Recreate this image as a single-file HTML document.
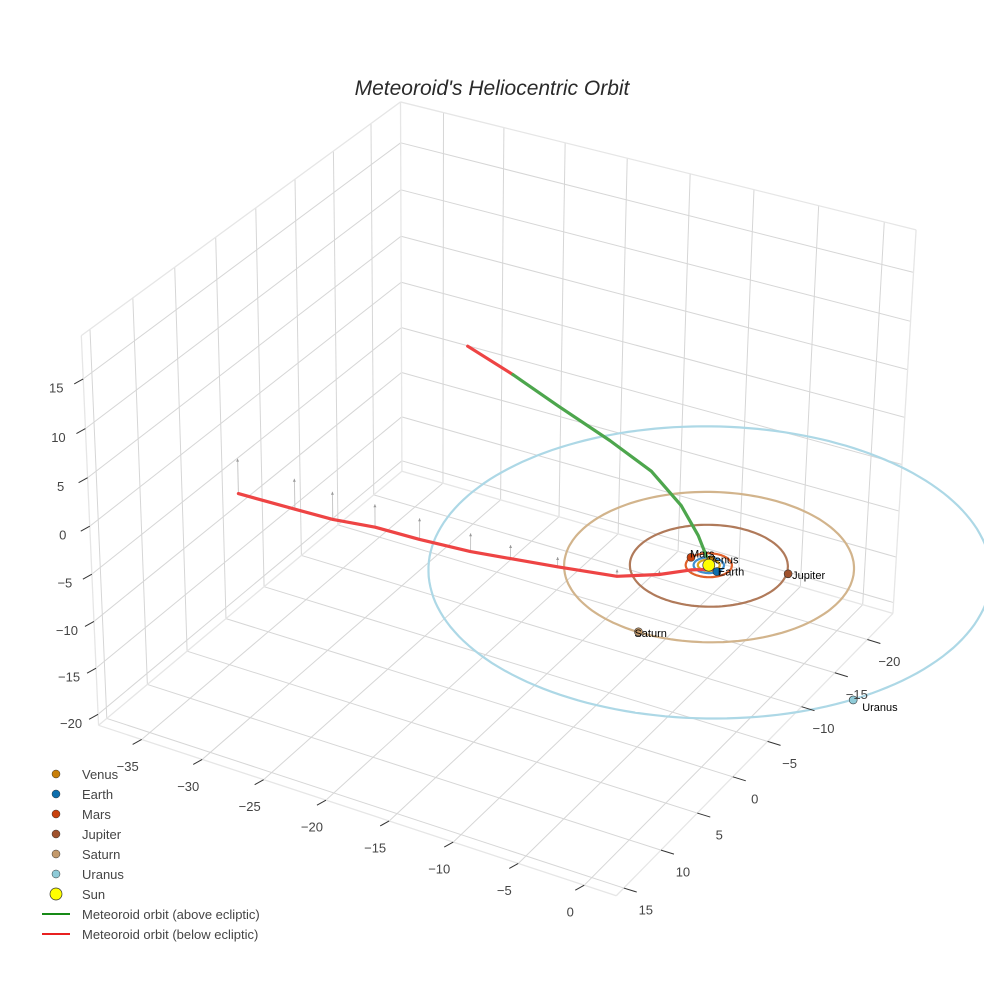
<!DOCTYPE html>
<html><head><meta charset="utf-8"><style>
body{margin:0;background:#fff}
svg{display:block;font-family:"Liberation Sans",sans-serif}
</style></head><body>
<svg id="chart" width="984" height="984" viewBox="0 0 984 984">
<rect width="984" height="984" fill="#fff"/>
<g id="grid"></g>
<g id="marks"></g>
<g id="axes"></g>
<text x="492" y="95" text-anchor="middle" font-size="21" font-style="italic" fill="#2a2a2a">Meteoroid's Heliocentric Orbit</text>
<g font-size="13" fill="#444">
 <g><circle cx="56" cy="774" r="4" fill="#c87f0a" stroke="#333" stroke-width="0.5"/><text x="82" y="779">Venus</text></g>
 <g><circle cx="56" cy="794" r="4" fill="#0d6ead" stroke="#333" stroke-width="0.5"/><text x="82" y="799">Earth</text></g>
 <g><circle cx="56" cy="814" r="4" fill="#c8410d" stroke="#333" stroke-width="0.5"/><text x="82" y="819">Mars</text></g>
 <g><circle cx="56" cy="834" r="4" fill="#a0522d" stroke="#333" stroke-width="0.5"/><text x="82" y="839">Jupiter</text></g>
 <g><circle cx="56" cy="854" r="4" fill="#c49a6c" stroke="#333" stroke-width="0.5"/><text x="82" y="859">Saturn</text></g>
 <g><circle cx="56" cy="874" r="4" fill="#8fcbd8" stroke="#333" stroke-width="0.5"/><text x="82" y="879">Uranus</text></g>
 <g><circle cx="56" cy="894" r="6" fill="#ffff00" stroke="#333" stroke-width="0.7"/><text x="82" y="899">Sun</text></g>
 <g><line x1="42" y1="914" x2="70" y2="914" stroke="#178a17" stroke-width="2"/><text x="82" y="919">Meteoroid orbit (above ecliptic)</text></g>
 <g><line x1="42" y1="934" x2="70" y2="934" stroke="#e82020" stroke-width="2"/><text x="82" y="939">Meteoroid orbit (below ecliptic)</text></g>
</g>
</svg>
<script>
// ---- data ----
const xTicks = [-35,-30,-25,-20,-15,-10,-5,0];
const yTicks = [-20,-15,-10,-5,0,5,10,15];
const zTicks = [-20,-15,-10,-5,0,5,10,15];
const xRange = [-38.6, 2.4];
const yRange = [-24, 16];
const zRange = [-21.2, 19.3];
const planetNames = ["Venus","Earth","Mars","Jupiter","Saturn","Uranus"];
const planetRadius = [0.72, 1.0, 1.52, 5.2, 9.54, 18.5];
const planetX = [-0.21, 0.85, -1.5, 5.05, 0.0, 15.7];
const planetY = [-0.69, 0.45, -0.3, -1.6, 9.5, 9.9];
const aboveX = [-15.1,-11.6,-7.66,-4.5,-2.2,-0.86,-0.23,0.3];
const aboveY = [0,0,0,0,0,0,0,0];
const aboveZ = [13.6,11.7,9.7,7.8,5.2,2.7,0.93,0];
const belowStartX = [-18.6,-15.1];
const belowStartY = [0,0];
const belowStartZ = [15.2,13.6];
const belowX = [-34.9,-30.0,-26.8,-23.4,-19.8,-15.8,-12.7,-9.2,-5.0,-2.5,-0.8,0.5];
const belowY = [3.5,3.9,4.1,4.1,4.2,4.2,4.2,4.0,3.44,2.2,1.0,0.3];
const belowZ = [-3.7,-3.2,-2.9,-2.4,-2.2,-1.9,-1.4,-1.0,-0.7,-0.4,-0.1,0];

// ---- camera calibration (3D -> screen) ----
const X0=xRange[0],X1=xRange[1],Y0=yRange[0],Y1=yRange[1],Z0=zRange[0],Z1=zRange[1];
const calib = [
 [X0,Y1,Z1,81,335],[X0,Y1,Z0,99,726],[X0,Y0,Z1,401,102],[X1,Y0,Z1,916,230],
 [X1,Y0,Z0,894,612],[X1,Y1,Z0,619,895],[0,0,0,708,565],[X0,Y0,0,401,281],
 [-35,Y0,Z1,445,113],[0,Y0,Z1,885,222],[X0,Y1,0,90,527],[X0,Y1,-20,98,714],
 [X0,15,Z1,90,328],[X0,-20,Z1,369,125],[X1,0,Z0,729,779]
];
function solve(){
  const A=[],b=[];
  calib.forEach(c=>{const [x,y,z,u,v]=c;
    A.push([x,y,z,1,0,0,0,0,-u*x,-u*y,-u*z]);b.push(u);
    A.push([0,0,0,0,x,y,z,1,-v*x,-v*y,-v*z]);b.push(v);});
  const n=11,M=[];
  for(let i=0;i<n;i++){M.push([]);for(let j=0;j<=n;j++){let s=0;
    for(let k=0;k<A.length;k++)s+=A[k][i]*(j<n?A[k][j]:b[k]);M[i].push(s);}}
  for(let i=0;i<n;i++){let p=i;for(let r=i+1;r<n;r++)if(Math.abs(M[r][i])>Math.abs(M[p][i]))p=r;
    [M[i],M[p]]=[M[p],M[i]];
    for(let r=0;r<n;r++){if(r===i)continue;const f=M[r][i]/M[i][i];
      for(let c=i;c<=n;c++)M[r][c]-=f*M[i][c];}}
  return M.map((row,i)=>row[n]/row[i]);
}
const P=solve();
function proj(x,y,z){const w=P[8]*x+P[9]*y+P[10]*z+1;
  return [(P[0]*x+P[1]*y+P[2]*z+P[3])/w,(P[4]*x+P[5]*y+P[6]*z+P[7])/w];}

const NS="http://www.w3.org/2000/svg";
const grid=document.getElementById('grid'),marks=document.getElementById('marks'),axes=document.getElementById('axes');
function mk(tag,parent,attrs){const e=document.createElementNS(NS,tag);for(const k in attrs)e.setAttribute(k,attrs[k]);parent.appendChild(e);return e;}
function pathD(pts){return pts.map((p,i)=>(i?'L':'M')+p[0].toFixed(1)+' '+p[1].toFixed(1)).join(' ');}
function seg(parent,a,b,stroke,w,name){const p=proj(...a),q=proj(...b);
  const l=mk('line',parent,{x1:p[0],y1:p[1],x2:q[0],y2:q[1],stroke:stroke,'stroke-width':w});
  
  
  return l;}

// grid lines
const GC="#d6d6d6";
xTicks.forEach(t=>{seg(grid,[t,Y0,Z0],[t,Y1,Z0],GC,1,'floor-gridline-x');seg(grid,[t,Y0,Z0],[t,Y0,Z1],GC,1,'backwall-gridline-x');});
yTicks.forEach(t=>{seg(grid,[X0,t,Z0],[X1,t,Z0],GC,1,'floor-gridline-y');seg(grid,[X0,t,Z0],[X0,t,Z1],GC,1,'sidewall-gridline-y');});
zTicks.forEach(t=>{seg(grid,[X0,Y0,t],[X0,Y1,t],GC,1,'sidewall-gridline-z');seg(grid,[X0,Y0,t],[X1,Y0,t],GC,1,'backwall-gridline-z');});
const EC="#e6e6e6";
[[[X0,Y1,Z0],[X0,Y1,Z1]],[[X0,Y1,Z1],[X0,Y0,Z1]],[[X0,Y0,Z1],[X1,Y0,Z1]],[[X1,Y0,Z1],[X1,Y0,Z0]],
 [[X1,Y0,Z0],[X1,Y1,Z0]],[[X1,Y1,Z0],[X0,Y1,Z0]],[[X0,Y0,Z0],[X0,Y0,Z1]],[[X0,Y0,Z0],[X1,Y0,Z0]],[[X0,Y0,Z0],[X0,Y1,Z0]]]
 .forEach(e=>seg(grid,e[0],e[1],EC,1.3,'box-edge'));

// ticks and labels
function tickLabel(pt,tdx,tdy,ldx,ldy,txt,name){
  const p=proj(...pt);
  const t=mk('line',axes,{x1:p[0],y1:p[1],x2:p[0]+tdx,y2:p[1]+tdy,stroke:'#333','stroke-width':1});
  
  
  const l=mk('text',axes,{x:p[0]+ldx,y:p[1]+ldy+4.5,'text-anchor':'middle','font-size':13,fill:'#444'});
  l.textContent=String(txt).replace('-','\u2212');
  
  
}
xTicks.forEach(t=>tickLabel([t,Y1,Z0],-9,5,-14,27,t,'x-axis'));
yTicks.forEach(t=>tickLabel([X1,t,Z0],13,4,22,22,t,'y-axis'));
zTicks.forEach(t=>tickLabel([X0,Y1,t],-9,5,-27,9,t,'z-axis'));

// orbits
const orbitColors=["#d9a21f","#3f8fd0","#e0602a","#b07a5a","#d2b48c","#add8e6"];
planetRadius.forEach((r,i)=>{const pts=[];for(let k=0;k<=180;k++){const a=k/180*2*Math.PI;pts.push(proj(r*Math.cos(a),r*Math.sin(a),0));}
  const o=mk('path',marks,{d:pathD(pts),fill:'none',stroke:orbitColors[i],'stroke-width':2.2});
  
  });

// drop lines
belowX.forEach((x,i)=>{const a=proj(x,belowY[i],belowZ[i]),b=proj(x,belowY[i],0);
  const l=mk('line',marks,{x1:a[0],y1:a[1],x2:b[0],y2:b[1],stroke:'#c8c8c8','stroke-width':1});
  
  
  const h=mk('path',marks,{d:`M${b[0]-1.5} ${b[1]+3} L${b[0]} ${b[1]} L${b[0]+1.5} ${b[1]+3}Z`,fill:'#999'});
  
  });

// meteoroid paths
function trace(X,Y,Z,color,name){const pts=X.map((x,i)=>proj(x,Y[i],Z[i]));
  const p=mk('path',marks,{d:pathD(pts),fill:'none',stroke:color,'stroke-width':3.2,'stroke-linejoin':'round','stroke-linecap':'round'});
  
  }
trace(belowX,belowY,belowZ,'#ee4444','meteoroid-below-path');
trace(belowStartX,belowStartY,belowStartZ,'#ee4444','meteoroid-below-start');
trace(aboveX,aboveY,aboveZ,'#4da64d','meteoroid-above-path');

// planets
const pColors=["#c87f0a","#0d6ead","#c8410d","#a0522d","#c49a6c","#8fcbd8"];
const labelOff=[[-3,4],[1,4],[-1,0],[4,5],[-4,5],[9,11]];
planetNames.forEach((n,i)=>{const p=proj(planetX[i],planetY[i],0);
  const c=mk('circle',marks,{cx:p[0],cy:p[1],r:4,fill:pColors[i],stroke:'#333','stroke-width':0.6});
  
  
  const t=mk('text',marks,{x:p[0]+labelOff[i][0],y:p[1]+labelOff[i][1],'font-size':11,fill:'#000'});
  t.textContent=n;
  
  });
const s=proj(0,0,0);
const sun=mk('circle',marks,{cx:s[0],cy:s[1],r:6,fill:'#ffff00',stroke:'#333','stroke-width':0.7});


</script>
</body></html>
